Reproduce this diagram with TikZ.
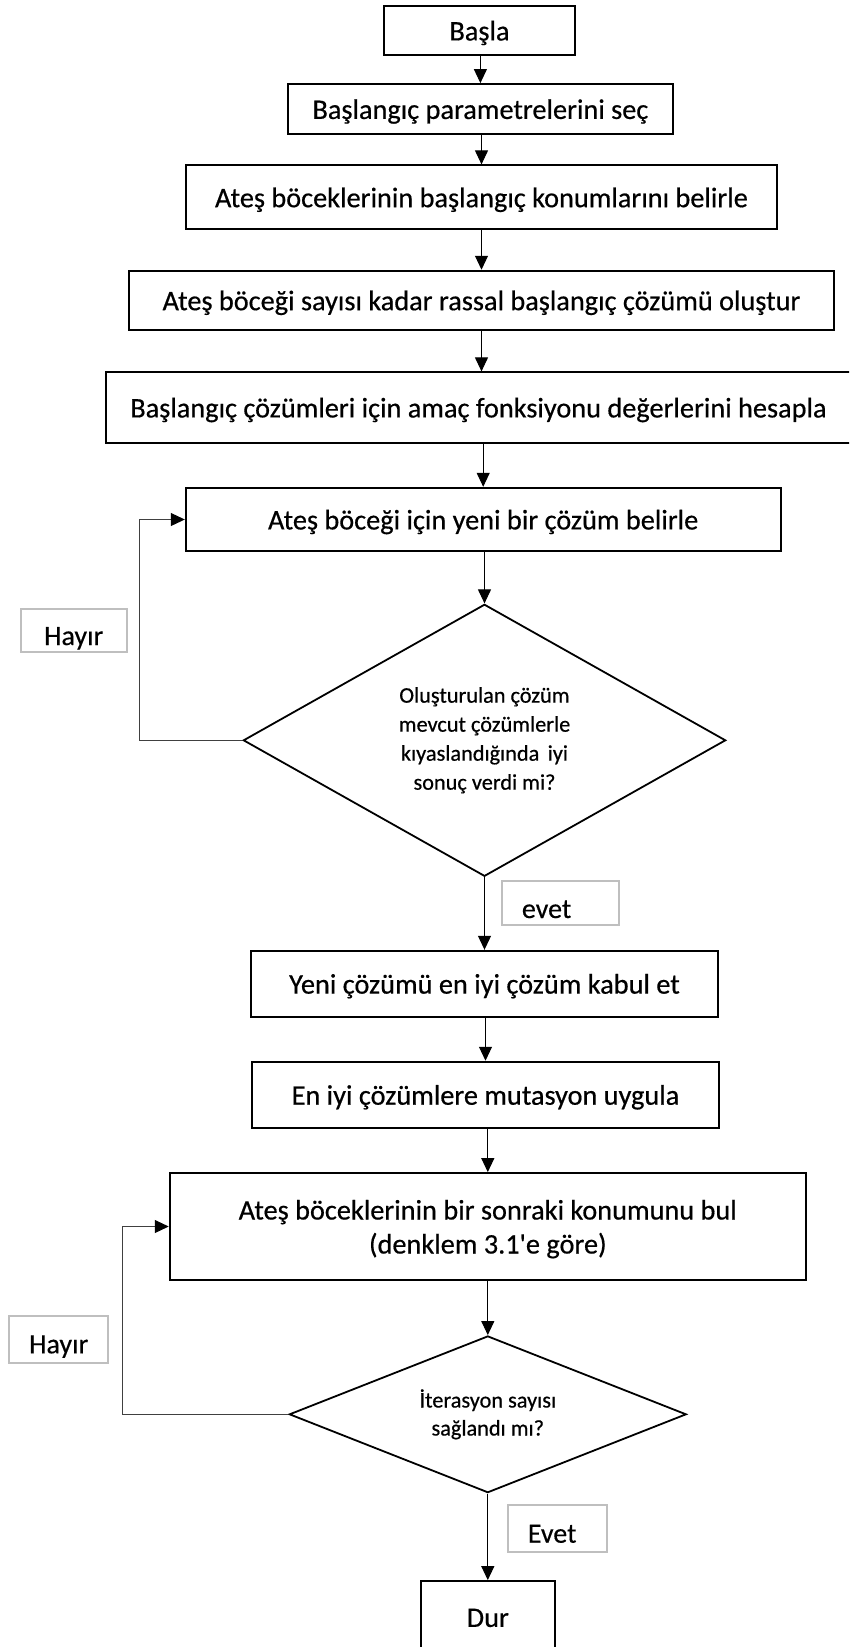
\documentclass[tikz,border=0pt]{standalone}
\usepackage{fontspec}
\newfontfamily\mainf{Carlito}[FakeBold=0.5]
\newfontfamily\labf{Carlito}[FakeBold=0.4]
\usetikzlibrary{shapes.geometric,arrows.meta}
\definecolor{lblgray}{HTML}{BFBFBF}
\definecolor{loopgray}{HTML}{404040}
\begin{document}
\begin{tikzpicture}[x=1pt,y=-1pt,
 procbox/.style={draw=black, line width=1.8pt, fill=white, inner sep=0pt, font=\mainf\fontsize{28.3}{34}\selectfont, text height=22.6pt, text depth=2.8pt},
 decbox/.style={draw=black, line width=1.8pt, fill=white, diamond, inner sep=0pt, align=center, font=\mainf\fontsize{22.3}{29}\selectfont},
 lblbox/.style={draw=lblgray, line width=1.8pt, fill=white, inner ysep=0pt, font=\labf\fontsize{28}{33}\selectfont},
 arr/.style={draw=black, line width=1pt, -{Triangle[length=14pt,width=13pt]}},
 looparr/.style={draw=loopgray, line width=1pt, -{Triangle[length=14pt,width=13pt,color=black]}}]
\useasboundingbox (0,0) rectangle (849,1647);
\clip (0,0) rectangle (849,1647);
\node[procbox, minimum width=190.7pt, minimum height=49pt] (basla) at (479.5,30.5) {Başla};
\node[procbox, minimum width=385.3pt, minimum height=50pt] (param) at (480.4,109) {Başlangıç parametrelerini seç};
\node[procbox, minimum width=591.6pt, minimum height=64pt] (konum) at (481.5,197.3) {Ateş böceklerinin başlangıç konumlarını belirle};
\node[procbox, minimum width=705pt, minimum height=59.3pt] (rassal) at (481.5,300.3) {Ateş böceği sayısı kadar rassal başlangıç çözümü oluştur};
\node[procbox, minimum width=745pt, minimum height=70.4pt] (hesapla) at (478.5,407.5) {Başlangıç çözümleri için amaç fonksiyonu değerlerini hesapla};
\node[procbox, minimum width=595pt, minimum height=63.6pt] (belirle) at (483.2,519.5) {Ateş böceği için yeni bir çözüm belirle};
\node[decbox, shape aspect=1.77, minimum width=482.4pt, minimum height=272pt] (d1) at (484.5,740.3) {Oluşturulan çözüm\\mevcut çözümlerle\\kıyaslandığında\hspace{0.15em} iyi\\sonuç verdi mi?};
\node[procbox, minimum width=467.6pt, minimum height=66pt] (yeni) at (484.5,983.7) {Yeni çözümü en iyi çözüm kabul et};
\node[procbox, minimum width=467.6pt, minimum height=66.3pt] (mut) at (485.5,1094.8) {En iyi çözümlere mutasyon uygula};
\node[procbox, minimum width=636.3pt, minimum height=107pt, align=center, text height=, text depth=] (sonraki) at (487.8,1226.5) {\rule{0pt}{26pt}Ateş böceklerinin bir sonraki konumunu bul\\(denklem 3.1'e göre)\rule[-6pt]{0pt}{6pt}};
\node[decbox, shape aspect=2.53, minimum width=397pt, minimum height=156.7pt, font=\mainf\fontsize{22.3}{28}\selectfont] (d2) at (487.8,1414.3) {İterasyon sayısı\\sağlandı mı?};
\node[procbox, minimum width=133.7pt, minimum height=72pt] (dur) at (487.8,1617) {Dur};
\node[lblbox, minimum width=106pt, text height=36.3pt, text depth=7pt, anchor=base] (hayir1) at (73.7,645) {Hayır};
\node[lblbox, minimum width=99.3pt, text height=37pt, text depth=10pt, anchor=base] (hayir2) at (58.7,1353.3) {Hayır};
\node[lblbox, inner xsep=19.7pt, text width=77.6pt, text height=37.3pt, text depth=7pt, anchor=base west] (evet1) at (501.3,918) {evet};
\node[lblbox, inner xsep=20.3pt, text width=58.4pt, text height=37.4pt, text depth=9.3pt, anchor=base west] (evet2) at (506.7,1542.7) {Evet};
\draw[arr] (param.north |- basla.south) -- (param.north);
\draw[arr] (konum.north |- param.south) -- (konum.north);
\draw[arr] (rassal.north |- konum.south) -- (rassal.north);
\draw[arr] (rassal.south) -- (rassal.south |- hesapla.north);
\draw[arr] (belirle.north |- hesapla.south) -- (belirle.north);
\draw[arr] (d1.north |- belirle.south) -- (d1.north);
\draw[arr] (d1.south) -- (d1.south |- yeni.north);
\draw[arr] (mut.north |- yeni.south) -- (mut.north);
\draw[arr] (sonraki.north |- mut.south) -- (sonraki.north);
\draw[arr] (d2.north |- sonraki.south) -- (d2.north);
\draw[arr] (d2.south) -- (d2.south |- dur.north);
\draw[looparr] (d1.west) -- ++(-102.6,0) |- (belirle.west);
\draw[looparr] (d2.west) -- ++(-165.6,0) |- (sonraki.west);
\end{tikzpicture}
\end{document}
